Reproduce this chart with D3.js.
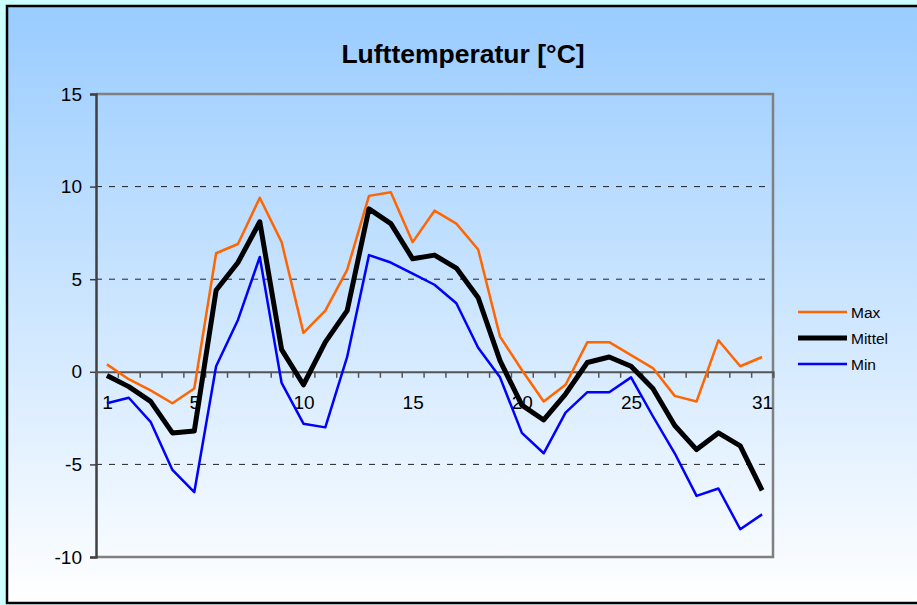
<!DOCTYPE html>
<html lang="de">
<head>
  <meta charset="UTF-8">
  <title>Lufttemperatur</title>
  <script src="https://d3js.org/d3.v7.min.js"></script>
  <style>
    html, body { margin: 0; padding: 0; background: #ccffff; }
    svg { display: block; }
    text { font-family: Arial, "Liberation Sans", sans-serif; fill: #000; }
  </style>
</head>
<body>
  <div id="chart"></div>
  <script>
    // Tageswerte (1..31)
    const days = d3.range(1, 32);
    const maxTemp = [0.4, -0.4, -1.0, -1.7, -0.9, 6.4, 6.9, 9.4, 7.0, 2.1,
                     3.3, 5.5, 9.5, 9.7, 7.0, 8.7, 8.0, 6.6, 1.9, 0.1,
                     -1.6, -0.7, 1.6, 1.6, 0.9, 0.2, -1.3, -1.6, 1.7, 0.3, 0.8];
    const meanTemp = [-0.2, -0.8, -1.6, -3.3, -3.2, 4.4, 5.9, 8.1, 1.2, -0.7,
                      1.6, 3.3, 8.8, 8.0, 6.1, 6.3, 5.6, 4.0, 0.6, -1.8,
                      -2.6, -1.2, 0.5, 0.8, 0.3, -0.9, -2.9, -4.2, -3.3, -4.0, -6.4];
    const minTemp = [-1.7, -1.4, -2.7, -5.3, -6.5, 0.3, 2.8, 6.2, -0.6, -2.8,
                     -3.0, 0.8, 6.3, 5.9, 5.3, 4.7, 3.7, 1.3, -0.3, -3.3,
                     -4.4, -2.2, -1.1, -1.1, -0.3, -2.4, -4.4, -6.7, -6.3, -8.5, -7.7];
    const yTicks = [-10, -5, 0, 5, 10, 15];
    const gridValues = [-5, 5, 10];
    const xLabelDays = [1, 5, 10, 15, 20, 25, 31];

    const series = [
      { name: "Max", values: maxTemp, color: "#ff6600", width: 2.5 },
      { name: "Mittel", values: meanTemp, color: "#000000", width: 5 },
      { name: "Min", values: minTemp, color: "#0000ff", width: 2.5 }
    ];

    const width = 917, height = 605;
    const plot = { left: 96, right: 773, top: 94, bottom: 557 };

    const svg = d3.select("#chart").append("svg")
      .attr("width", width)
      .attr("height", height);

    const defs = svg.append("defs");
    const grad = defs.append("linearGradient")
      .attr("id", "bg")
      .attr("x1", 0).attr("y1", 0).attr("x2", 0).attr("y2", 1);
    grad.append("stop").attr("offset", "0%").attr("stop-color", "#99ccff");
    grad.append("stop").attr("offset", "100%").attr("stop-color", "#ffffff");

    // chart area with black frame
    svg.append("rect")
      .attr("x", 7).attr("y", 6)
      .attr("width", 920).attr("height", 597)
      .attr("fill", "url(#bg)")
      .attr("stroke", "#000")
      .attr("stroke-width", 2.5);

    const x = d3.scaleLinear().domain([0.5, 31.5]).range([plot.left, plot.right]);
    const y = d3.scaleLinear().domain([-10, 15]).range([plot.bottom, plot.top]);

    // title
    svg.append("text")
      .attr("x", 463)
      .attr("y", 63)
      .attr("text-anchor", "middle")
      .attr("font-size", "26.5px")
      .attr("font-weight", "bold")
      .text("Lufttemperatur [°C]");

    // grid lines
    svg.append("g").selectAll("line")
      .data(gridValues)
      .join("line")
      .attr("x1", plot.left).attr("x2", plot.right)
      .attr("y1", d => y(d)).attr("y2", d => y(d))
      .attr("stroke", "#222")
      .attr("stroke-width", 1)
      .attr("stroke-dasharray", "6,7");

    // plot frame (top, right, bottom)
    svg.append("path")
      .attr("d", `M${plot.left},${plot.top}H${plot.right}V${plot.bottom}H${plot.left}`)
      .attr("fill", "none")
      .attr("stroke", "#808080")
      .attr("stroke-width", 2.5);

    // y axis
    const yAxis = svg.append("g")
      .attr("transform", `translate(${plot.left},0)`)
      .call(d3.axisLeft(y).tickValues(yTicks).tickSize(6).tickPadding(8)
        .tickFormat(d => String(d)));
    yAxis.select(".domain").attr("stroke", "#404040").attr("stroke-width", 2.5);
    yAxis.selectAll(".tick line").attr("stroke", "#404040").attr("stroke-width", 1.5);
    yAxis.selectAll(".tick text").attr("font-size", "19px").attr("font-family", null);

    // x axis along zero: tick marks between days
    const xTicks = svg.append("g")
      .attr("transform", `translate(0,${y(0)})`)
      .call(d3.axisBottom(x).tickValues(days.map(d => d + 0.5)).tickSize(6).tickFormat(""));
    xTicks.select(".domain").attr("stroke", "#555").attr("stroke-width", 2);
    xTicks.selectAll(".tick line").attr("stroke", "#555").attr("stroke-width", 1.5);

    // x labels
    const xLabels = svg.append("g")
      .attr("transform", `translate(0,${y(0)})`)
      .call(d3.axisBottom(x).tickValues(xLabelDays).tickSize(0).tickPadding(24));
    xLabels.select(".domain").remove();
    xLabels.selectAll(".tick text").attr("font-size", "19px").attr("font-family", null);

    // series lines
    const line = d3.line()
      .x((d, i) => x(days[i]))
      .y(d => y(d));

    svg.append("g").selectAll("path")
      .data(series)
      .join("path")
      .attr("d", d => line(d.values))
      .attr("fill", "none")
      .attr("stroke", d => d.color)
      .attr("stroke-width", d => d.width)
      .attr("stroke-linejoin", "round");

    // legend
    const legend = svg.append("g").attr("transform", "translate(798,312)");
    const item = legend.selectAll("g")
      .data(series)
      .join("g")
      .attr("transform", (d, i) => `translate(0,${i * 26})`);
    item.append("line")
      .attr("x1", 0).attr("x2", 49)
      .attr("stroke", d => d.color)
      .attr("stroke-width", d => d.width === 5 ? 5 : 2.5);
    item.append("text")
      .attr("x", 53)
      .attr("dy", "0.36em")
      .attr("font-size", "15.5px")
      .text(d => d.name);
  </script>
</body>
</html>
